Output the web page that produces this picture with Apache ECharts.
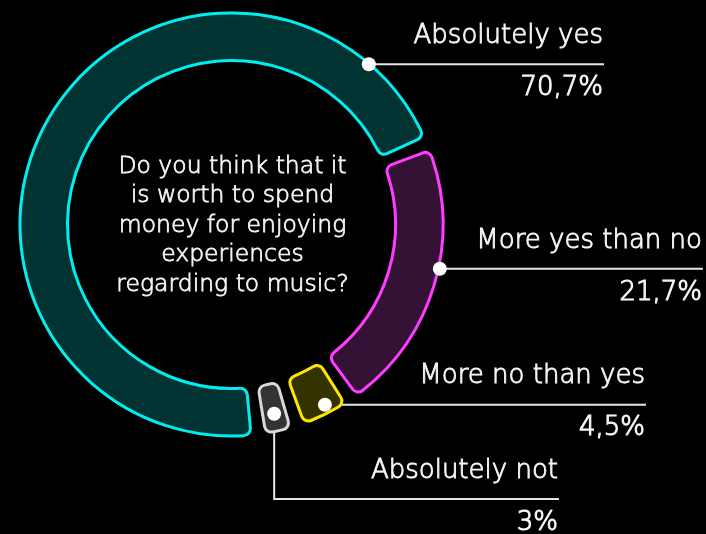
<!DOCTYPE html>
<html><head><meta charset="utf-8">
<script src="https://cdn.jsdelivr.net/npm/echarts@6/dist/echarts.min.js"></script>
<style>html,body{margin:0;padding:0;background:#000;}#c{width:706px;height:534px;}</style>
</head><body><div id="c"></div>
<script>
// ---- data ----
const categories = ['Absolutely yes', 'More yes than no', 'More no than yes', 'Absolutely not'];
const values = [70.7, 21.7, 4.5, 3];
const valueLabels = ['70,7%', '21,7%', '4,5%', '3%'];
const question = 'Do you think that it\nis worth to spend\nmoney for enjoying\nexperiences\nregarding to music?';

// ---- style ----
const strokeColors = ['#00eeee', '#ff3cff', '#ffe600', '#d8d8d8'];
const fillColors = ['#023333', '#341236', '#333300', '#333333'];
const FONT = '"DejaVu Sans"';
const TXT = '#f4f4f4';
const CX = 231.5, CY = 224.5, R0 = 164, R1 = 211.5, START = -82.7, PAD = 4;
// label anchors: angle deg clockwise from top (null = sector middle), radius, line y (null = anchor y), line right end
const labelCfg = [
  { angle: 40.6, r: 211, lineY: null, right: 604 },
  { angle: 102, r: 213, lineY: null, right: 703 },
  { angle: 152.6, r: 203, lineY: null, right: 646 },
  { angle: null, r: 194, lineY: 499, right: 559 }
];

const total = values.reduce((a, b) => a + b, 0);
function anchor(i) {
  const c = labelCfg[i];
  let a = c.angle;
  if (a == null) {
    let cum = 0;
    for (let k = 0; k < i; k++) cum += values[k];
    a = (90 - START) + (cum + values[i] / 2) / total * 360;
  }
  const rad = a * Math.PI / 180;
  return [CX + c.r * Math.sin(rad), CY - c.r * Math.cos(rad)];
}

const chart = echarts.init(document.getElementById('c'), null, { renderer: 'canvas' });
const dots = values.map((v, i) => {
  const p = anchor(i);
  return { type: 'circle', z: 100, silent: true, shape: { cx: p[0], cy: p[1], r: 7 }, style: { fill: '#ffffff' } };
});

chart.setOption({
  backgroundColor: '#000000',
  animation: false,
  graphic: [{
    type: 'text', x: CX + 1, y: CY + 1, z: 50, silent: true,
    style: {
      text: question, align: 'center', verticalAlign: 'middle',
      fill: TXT, font: '200 23.5px ' + FONT, lineHeight: 29.5,
      stroke: TXT, lineWidth: 0.8
    }
  }].concat(dots),
  series: [{
    type: 'pie',
    center: [CX, CY],
    radius: [R0, R1],
    startAngle: START,
    clockwise: true,
    padAngle: PAD,
    avoidLabelOverlap: false,
    silent: true,
    emphasis: { disabled: true },
    data: categories.map((name, i) => ({
      name: name,
      value: values[i],
      itemStyle: { color: fillColors[i], borderColor: strokeColors[i], borderWidth: 3, borderRadius: 7 }
    })),
    label: {
      show: true,
      position: 'outside',
      formatter: p => '{n|' + p.name + '}\n{v|' + valueLabels[p.dataIndex] + '}',
      rich: {
        n: { fontFamily: FONT, fontSize: 26, fontWeight: 200, color: TXT, lineHeight: 52, textBorderColor: TXT, textBorderWidth: 0.9 },
        v: { fontFamily: FONT, fontSize: 26, fontWeight: 200, color: TXT, lineHeight: 52, textBorderColor: TXT, textBorderWidth: 1.1 }
      }
    },
    labelLine: { show: true, smooth: false, lineStyle: { color: '#e6e6e6', width: 2 } },
    labelLayout: function (params) {
      const i = params.dataIndex;
      const c = labelCfg[i];
      const p = anchor(i);
      const ly = c.lineY == null ? p[1] : c.lineY;
      const pts = c.lineY == null ? [p, [p[0] + 1, ly], [c.right, ly]] : [p, [p[0], ly], [c.right, ly]];
      return { x: c.right - 1, y: ly - 2, align: 'right', verticalAlign: 'middle', labelLinePoints: pts };
    }
  }]
});
</script>
</body></html>
